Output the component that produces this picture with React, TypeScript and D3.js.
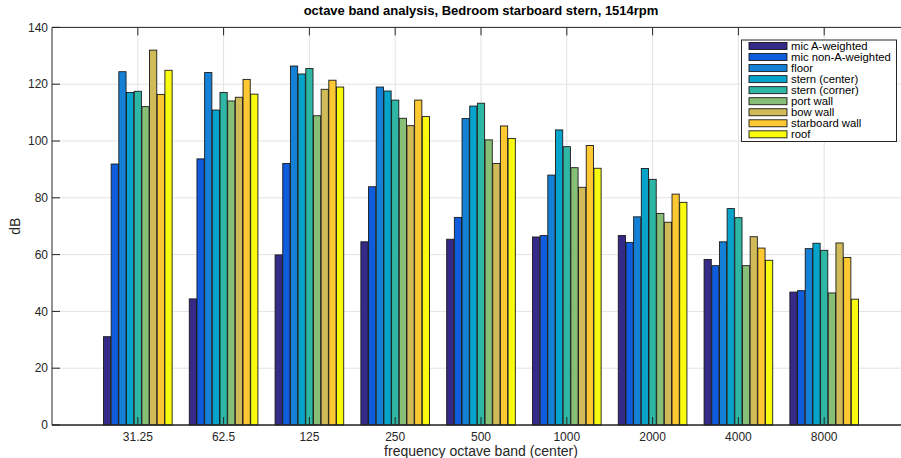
import React from "react";
import * as d3 from "d3";

const categories = ["31.25", "62.5", "125", "250", "500", "1000", "2000", "4000", "8000"];
const seriesNames = [
  "mic A-weighted",
  "mic non-A-weighted",
  "floor",
  "stern (center)",
  "stern (corner)",
  "port wall",
  "bow wall",
  "starboard wall",
  "roof",
];
const seriesColors = ["#352a87", "#0f5cdd", "#1481d6", "#06a4ca", "#2eb7a4", "#87bf77", "#d1bb59", "#fec832", "#f9fb0e"];

const micA = [31.1, 44.4, 59.9, 64.5, 65.4, 66.2, 66.7, 58.3, 46.8];
const micNonA = [91.9, 93.7, 92.1, 83.9, 73.1, 66.7, 64.3, 56.1, 47.3];
const floor = [124.4, 124.1, 126.4, 119.0, 107.9, 88.0, 73.3, 64.5, 62.1];
const sternCenter = [117.1, 110.9, 123.6, 117.6, 112.3, 103.9, 90.3, 76.2, 64.0];
const sternCorner = [117.5, 117.1, 125.5, 114.4, 113.3, 98.0, 86.5, 73.0, 61.5];
const portWall = [112.1, 114.1, 108.9, 108.0, 100.4, 90.6, 74.5, 56.1, 46.5];
const bowWall = [132.0, 115.4, 118.2, 105.4, 92.1, 83.7, 71.4, 66.3, 64.1];
const starboardWall = [116.4, 121.7, 121.4, 114.4, 105.3, 98.4, 81.3, 62.3, 59.0];
const roof = [124.9, 116.5, 119.0, 108.6, 100.9, 90.4, 78.4, 58.0, 44.3];

const seriesValues = [micA, micNonA, floor, sternCenter, sternCorner, portWall, bowWall, starboardWall, roof];
const yTicks = [0, 20, 40, 60, 80, 100, 120, 140];

const W = 901;
const H = 458;
const left = 52;
const right = 910;
const top = 27.4;
const bottom = 425;
const FONT = "'Liberation Sans', Arial, Helvetica, sans-serif";

export default function App() {
  const x = d3.scaleLinear().domain([0, 10]).range([left, right]);
  const y = d3.scaleLinear().domain([0, 140]).range([bottom, top]);
  const step = x(1) - x(0);
  const groupW = 0.8 * step;
  const inner = d3
    .scaleBand<number>()
    .domain(d3.range(seriesNames.length))
    .range([-groupW / 2, groupW / 2])
    .paddingInner(0.06);
  const bw = inner.bandwidth();

  const legendX = 741.5;
  const legendY = 40;
  const legendW = 155;
  const legendH = 101.5;
  const rowH = 11.04;

  return (
    <svg
      width={W}
      height={H}
      style={{ position: "absolute", left: 0, top: 0, background: "#fff" }}
      fontFamily={FONT}
    >
      <rect x={0} y={0} width={W} height={H} fill="#fff" />
      {/* grid */}
      {yTicks.map((t) => (
        <line key={"gy" + t} x1={left} x2={right} y1={y(t)} y2={y(t)} stroke="#e3e3e3" strokeWidth={1} />
      ))}
      {categories.map((c, i) => (
        <line key={"gx" + c} x1={x(i + 1)} x2={x(i + 1)} y1={top} y2={bottom} stroke="#e3e3e3" strokeWidth={1} />
      ))}
      {/* bars */}
      {seriesValues.map((vals, s) =>
        vals.map((v, i) => (
          <rect
            key={s + "-" + i}
            x={x(i + 1) + (inner(s) as number)}
            y={y(v)}
            width={bw}
            height={y(0) - y(v)}
            fill={seriesColors[s]}
            stroke="#1a1a1a"
            strokeWidth={0.9}
          />
        ))
      )}
      {/* axes box */}
      <line x1={left} x2={right} y1={top} y2={top} stroke="#262626" strokeWidth={1} />
      <line x1={left} x2={right} y1={bottom} y2={bottom} stroke="#262626" strokeWidth={1.5} />
      <line x1={left} x2={left} y1={top} y2={bottom} stroke="#262626" strokeWidth={1} />
      {/* y ticks */}
      {yTicks.map((t) => (
        <g key={"yt" + t}>
          <line x1={left} x2={left + 8} y1={y(t)} y2={y(t)} stroke="#262626" strokeWidth={1} />
          <text x={left - 4} y={y(t)} dy="0.35em" textAnchor="end" fontSize={12} fill="#262626">
            {t}
          </text>
        </g>
      ))}
      {/* x ticks */}
      {categories.map((c, i) => (
        <g key={"xt" + c}>
          <line x1={x(i + 1)} x2={x(i + 1)} y1={top} y2={top + 8} stroke="#262626" strokeWidth={1} />
          <line x1={x(i + 1)} x2={x(i + 1)} y1={bottom} y2={bottom - 8} stroke="#262626" strokeWidth={1} />
          <text x={x(i + 1)} y={bottom + 12} dy="0.35em" textAnchor="middle" fontSize={12} fill="#262626">
            {c}
          </text>
        </g>
      ))}
      {/* labels */}
      <text x={(left + right) / 2} y={451} dy="0.35em" textAnchor="middle" fontSize={14} fill="#262626">
        frequency octave band (center)
      </text>
      <text
        transform={`translate(15, ${(top + bottom) / 2}) rotate(-90)`}
        dy="0.35em"
        textAnchor="middle"
        fontSize={14}
        fill="#262626"
      >
        dB
      </text>
      <text x={(left + right) / 2} y={10.5} dy="0.35em" textAnchor="middle" fontSize={13} fontWeight="bold" fill="#000">
        octave band analysis, Bedroom starboard stern, 1514rpm
      </text>
      {/* legend */}
      <rect x={legendX} y={legendY} width={legendW} height={legendH} fill="#fff" stroke="#262626" strokeWidth={1} />
      {seriesNames.map((n, s) => (
        <g key={"lg" + n}>
          <rect
            x={749}
            y={legendY + 6 + s * rowH - 3.5}
            width={38}
            height={7}
            fill={seriesColors[s]}
            stroke="#1a1a1a"
            strokeWidth={0.9}
          />
          <text x={791} y={legendY + 6 + s * rowH} dy="0.35em" fontSize={11.3} fill="#000">
            {n}
          </text>
        </g>
      ))}
    </svg>
  );
}
